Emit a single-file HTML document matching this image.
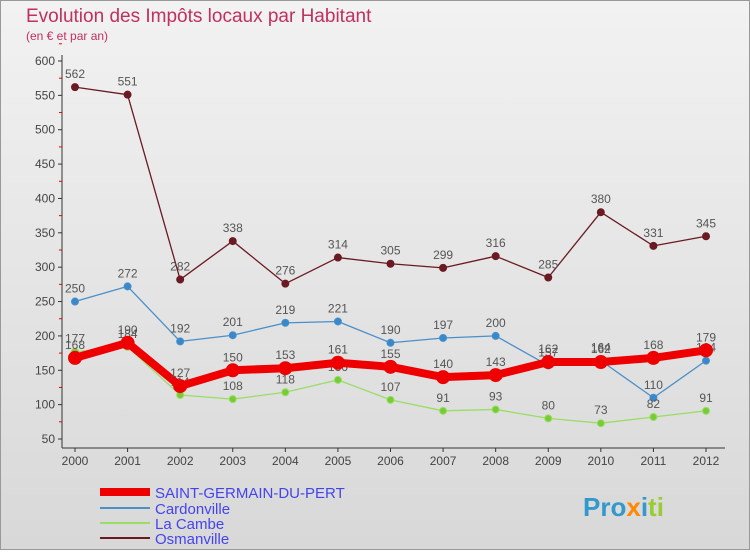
<!DOCTYPE html>
<html><head><meta charset="utf-8"><style>
body{margin:0;width:750px;height:550px;overflow:hidden;font-family:"Liberation Sans",sans-serif}
</style></head><body>
<svg width="750" height="550" xmlns="http://www.w3.org/2000/svg">
<defs><linearGradient id="bg" x1="0" y1="0" x2="0" y2="1"><stop offset="0" stop-color="#f2f2f2"/><stop offset="1" stop-color="#d8d8d8"/></linearGradient></defs>
<rect x="0.5" y="0.5" width="749" height="549" fill="url(#bg)" stroke="#999"/>
<text x="26" y="22" font-size="19" fill="#c03060">Evolution des Impôts locaux par Habitant</text>
<text x="26" y="40" font-size="12" fill="#c03060">(en € et par an)</text>
<g id="axes"></g><g id="series"></g>
<g>
<line x1="100" y1="492" x2="150" y2="492" stroke="#ee0000" stroke-width="8"/>
<text x="155" y="498" font-size="15" fill="#4444ee">SAINT-GERMAIN-DU-PERT</text>
<line x1="100" y1="508" x2="150" y2="508" stroke="#4a8fc8" stroke-width="2"/>
<text x="155" y="514" font-size="15" fill="#4444ee">Cardonville</text>
<line x1="100" y1="523" x2="150" y2="523" stroke="#99dd66" stroke-width="2"/>
<text x="155" y="529" font-size="15" fill="#4444ee">La Cambe</text>
<line x1="100" y1="538" x2="150" y2="538" stroke="#6a1a22" stroke-width="2"/>
<text x="155" y="544" font-size="15" fill="#4444ee">Osmanville</text>
</g>
<text x="583" y="516" font-size="26" font-weight="bold" fill="#3399cc">Pro<tspan fill="#ff8800">x</tspan>i<tspan fill="#99cc33">ti</tspan></text>
</svg>
<script>
const years=[2000,2001,2002,2003,2004,2005,2006,2007,2008,2009,2010,2011,2012];
const yTicks=[50,100,150,200,250,300,350,400,450,500,550,600];
const sgdp=[168,190,127,150,153,161,155,140,143,162,162,168,179];
const cardonville=[250,272,192,201,219,221,190,197,200,157,164,110,164];
const laCambe=[177,184,114,108,118,136,107,91,93,80,73,82,91];
const osmanville=[562,551,282,338,276,314,305,299,316,285,380,331,345];
const NS="http://www.w3.org/2000/svg";
const xS=i=>75+i*(706-75)/12;
const yS=v=>439-(v-50)*(439-61)/550;
function mk(t,a,p){const e=document.createElementNS(NS,t);for(const k in a)e.setAttribute(k,a[k]);p.appendChild(e);return e;}
const ax=document.getElementById('axes');
const yl=mk('line',{x1:62,y1:55,x2:62,y2:448,stroke:'#333'},ax);


const xl=mk('line',{x1:62,y1:448,x2:725,y2:448,stroke:'#333'},ax);


yTicks.forEach(v=>{
  mk('line',{x1:58,y1:yS(v),x2:62,y2:yS(v),stroke:'#333'},ax);
  mk('line',{x1:59,y1:yS(v+25),x2:62,y2:yS(v+25),stroke:'#e00'},ax);
  const t=mk('text',{x:55,y:yS(v)+4,'font-size':12,'text-anchor':'end',fill:'#444'},ax);
  t.textContent=v;
  
  
});
years.forEach((y,i)=>{
  mk('line',{x1:xS(i),y1:448,x2:xS(i),y2:452,stroke:'#333'},ax);
  const t=mk('text',{x:xS(i),y:465,'font-size':12,'text-anchor':'middle',fill:'#444'},ax);
  t.textContent=y;
  
  
});
const sg=document.getElementById('series');
function draw(vals,name,col,w,r,dot){
  const g=mk('g',{},sg);
  
  
  const pl=mk('polyline',{points:vals.map((v,i)=>xS(i)+','+yS(v)).join(' '),fill:'none',stroke:col,'stroke-width':w,'stroke-linejoin':'round'},g);
  
  
  vals.forEach((v,i)=>{
    const c=mk('circle',{cx:xS(i),cy:yS(v),r:r,fill:dot,stroke:col,'stroke-width':1},g);
    
    
    const t=mk('text',{x:xS(i),y:yS(v)-9,'font-size':12,'text-anchor':'middle',fill:'#555'},g);
    t.textContent=v;
    
    
  });
}
draw(osmanville,'osmanville','#6a1a22',1.3,3.5,'#6a1a22');
draw(cardonville,'cardonville','#4a8fc8',1.3,3.5,'#3a88cc');
draw(laCambe,'la-cambe','#99dd66',1.3,3.5,'#77cc33');
draw(sgdp,'saint-germain','#ee0000',8,6.5,'#ee0000');
</script>
</body></html>
